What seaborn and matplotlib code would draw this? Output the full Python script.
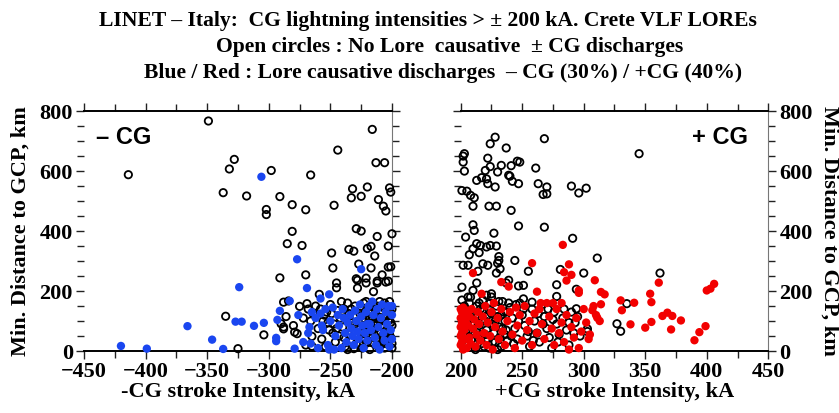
import seaborn as sns
import matplotlib.pyplot as plt
import pandas as pd
from matplotlib.ticker import MultipleLocator

# -CG strokes (kA, km): no LORE causative (open) / LORE causative (blue)
neg_open = [
    (-414, 588), (-349, 767), (-332, 607), (-328, 639), (-337, 528), (-318, 517),
    (-298, 602), (-302, 472), (-302, 455), (-291, 515), (-281, 488), (-270, 471),
    (-266, 587), (-281, 399), (-285, 358), (-273, 352), (-244, 670), (-247, 486),
    (-291, 244), (-270, 254), (-335, 116), (-325, 8), (-249, 327), (-248, 277),
    (-245, 227), (-245, 211), (-216, 739), (-213, 628), (-206, 628), (-232, 541),
    (-233, 511), (-225, 516), (-220, 547), (-202, 544), (-201, 530), (-211, 505),
    (-207, 483), (-205, 467), (-229, 408), (-225, 400), (-212, 382), (-200, 391),
    (-235, 339), (-231, 333), (-217, 349), (-220, 342), (-214, 317), (-203, 350),
    (-227, 290), (-217, 277), (-203, 280), (-201, 281), (-229, 241), (-228, 236),
    (-221, 243), (-221, 227), (-212, 233), (-212, 227), (-205, 230), (-203, 233),
    (-228, 210), (-208, 254), (-215, 198), (-259, 189), (-288, 163), (-284, 167),
    (-275, 149), (-269, 158), (-290, 91), (-288, 74), (-279, 63), (-277, 58),
    (-265, 49), (-265, 16), (-304, 54),
    (-262, 150), (-258, 140), (-255, 120), (-252, 95), (-250, 155), (-248, 60),
    (-246, 30), (-244, 135), (-242, 110), (-240, 80), (-239, 45), (-238, 15),
    (-236, 160), (-235, 125), (-234, 95), (-233, 65), (-232, 35), (-231, 8),
    (-230, 150), (-229, 115), (-228, 75), (-227, 50), (-226, 20), (-225, 140),
    (-224, 105), (-223, 160), (-222, 85), (-221, 55), (-220, 30), (-219, 130),
    (-218, 5), (-217, 100), (-216, 70), (-215, 150), (-214, 120), (-213, 40),
    (-212, 90), (-211, 15), (-210, 165), (-209, 60), (-208, 135), (-207, 110),
    (-206, 80), (-205, 25), (-204, 150), (-203, 100), (-202, 55), (-201, 125),
    (-200, 10), (-200, 85), (-268, 140), (-266, 100), (-272, 110), (-260, 75),
    (-257, 40), (-254, 15), (-249, 125), (-247, 90), (-243, 50), (-241, 165),
    (-237, 105), (-233, 140), (-229, 25), (-226, 125), (-223, 45), (-221, 165),
    (-218, 110), (-217, 30), (-214, 75), (-212, 150), (-211, 105), (-209, 20),
    (-208, 50), (-206, 160), (-205, 115), (-204, 70), (-203, 35), (-202, 140),
    (-201, 95), (-210, 130), (-215, 95), (-220, 90), (-225, 60), (-230, 90),
    (-235, 55), (-245, 75), (-253, 130), (-264, 125), (-270, 20), (-286, 115),
    (-280, 85), (-288, 80), (-256, 100), (-251, 70), (-239, 140), (-219, 75),
    (-207, 40), (-202, 165), (-224, 10), (-236, 5),
    (-222, 130), (-218, 150), (-216, 115), (-213, 95), (-211, 60), (-209, 85),
    (-207, 145), (-206, 10), (-204, 120), (-203, 65), (-201, 45), (-200, 140),
    (-200, 25), (-219, 45), (-214, 140), (-210, 100), (-227, 95), (-223, 120),
    (-217, 55), (-212, 20),
]
neg_lore = [
    (-420, 17), (-399, 8), (-366, 83), (-346, 38), (-337, 7), (-324, 213),
    (-327, 98), (-322, 98), (-312, 84), (-304, 94), (-306, 581), (-294, 44),
    (-294, 33), (-293, 104), (-291, 134), (-283, 167), (-277, 306), (-269, 210),
    (-251, 189), (-225, 273), (-279, 8), (-267, 80), (-276, 120), (-258, 175),
    (-262, 110), (-258, 125), (-256, 70), (-254, 140), (-252, 20), (-251, 5),
    (-250, 100), (-248, 145), (-246, 50), (-244, 120), (-243, 85), (-241, 10),
    (-240, 140), (-238, 60), (-237, 30), (-236, 95), (-234, 120), (-233, 75),
    (-232, 50), (-231, 20), (-230, 135), (-229, 100), (-228, 65), (-227, 40),
    (-226, 155), (-225, 115), (-224, 85), (-223, 10), (-222, 60), (-221, 130),
    (-220, 35), (-219, 150), (-218, 90), (-217, 70), (-216, 165), (-215, 120),
    (-214, 45), (-213, 20), (-212, 140), (-211, 80), (-210, 5), (-209, 110),
    (-208, 155), (-207, 60), (-206, 35), (-205, 130), (-204, 90), (-203, 150),
    (-202, 15), (-201, 70), (-200, 120), (-200, 150), (-200, 40), (-265, 130),
    (-268, 60), (-266, 25), (-260, 10), (-257, 85), (-272, 30), (-247, 5),
    (-239, 110), (-220, 90),
]

# +CG strokes (kA, km): no LORE causative (open) / LORE causative (red)
pos_open = [
    (203, 658), (202, 650), (202, 630), (203, 600), (201, 535), (205, 533),
    (208, 519), (211, 511), (210, 483), (210, 421), (211, 402), (204, 380),
    (213, 569), (217, 578), (221, 574), (222, 558), (220, 602), (224, 615),
    (222, 643), (224, 691), (228, 713), (237, 677), (233, 619), (230, 597),
    (228, 547), (223, 483), (229, 483), (241, 618), (239, 586), (240, 583),
    (242, 566), (247, 558), (246, 633), (248, 630), (241, 469), (247, 417),
    (261, 610), (263, 558), (267, 522), (270, 524), (268, 708), (270, 547),
    (268, 413), (290, 550), (296, 527), (302, 543), (345, 658), (291, 376),
    (311, 310), (300, 260), (362, 260), (335, 158), (327, 91), (330, 66),
    (303, 74), (294, 141), (294, 206), (281, 272), (278, 221), (278, 182),
    (255, 266), (244, 302), (231, 315), (231, 302), (230, 293), (232, 274),
    (227, 393), (213, 358), (216, 352), (221, 347), (224, 352), (229, 350),
    (207, 321), (210, 341), (215, 328), (202, 286), (206, 286), (218, 291),
    (222, 286), (214, 266), (229, 260), (239, 236), (237, 227), (247, 217),
    (201, 213), (213, 227), (210, 202), (221, 186), (225, 191), (206, 180),
    (251, 219), (258, 163), (251, 174),
    (201, 170), (202, 140), (203, 110), (204, 80), (205, 50), (206, 20),
    (207, 160), (208, 125), (209, 95), (210, 65), (211, 35), (212, 5),
    (213, 150), (214, 115), (215, 85), (216, 55), (217, 25), (218, 170),
    (219, 135), (220, 100), (221, 70), (222, 40), (223, 10), (224, 160),
    (225, 125), (226, 90), (227, 60), (228, 30), (229, 150), (230, 115),
    (231, 80), (232, 45), (233, 15), (234, 165), (235, 130), (236, 100),
    (237, 70), (238, 35), (240, 145), (242, 110), (244, 75), (246, 40),
    (248, 160), (250, 120), (252, 85), (254, 50), (256, 15), (258, 140),
    (260, 100), (262, 60), (264, 30), (266, 155), (268, 115), (270, 75),
    (272, 45), (274, 10), (276, 130), (278, 90), (280, 55), (283, 110),
    (286, 70), (288, 20), (290, 130), (293, 95), (297, 50), (202, 60),
    (204, 25), (206, 130), (208, 180), (211, 90), (214, 45), (216, 140),
    (219, 15), (222, 120), (225, 180), (227, 85), (230, 5), (233, 120),
    (236, 55), (239, 160), (243, 25), (247, 100), (251, 140), (255, 65),
    (259, 35), (263, 125), (267, 90), (271, 140), (275, 105), (279, 30),
    (284, 140), (288, 95), (292, 60), (295, 115), (303, 65),
    (203, 150), (205, 95), (207, 70), (209, 40), (212, 120), (215, 160),
    (217, 105), (220, 55), (223, 140), (226, 30), (228, 100), (231, 165),
    (234, 75), (237, 130), (241, 50), (245, 155),
]
pos_lore = [
    (210, 260), (217, 191), (233, 230), (239, 215), (258, 293), (262, 198),
    (283, 354), (284, 263), (288, 289), (286, 235), (290, 254), (296, 202),
    (296, 194), (309, 236), (314, 197), (317, 189), (314, 156), (311, 111),
    (307, 136), (330, 169), (331, 136), (341, 161), (338, 89), (350, 78),
    (355, 97), (354, 191), (355, 163), (361, 228), (364, 117), (368, 128),
    (372, 117), (371, 72), (379, 102), (390, 36), (394, 63), (399, 83),
    (400, 202), (403, 208), (406, 224),
    (200, 140), (200, 110), (200, 80), (200, 50), (200, 20), (201, 130),
    (201, 95), (201, 60), (201, 30), (202, 145), (202, 5), (203, 120),
    (203, 70), (204, 100), (204, 40), (205, 135), (205, 10), (206, 85),
    (207, 115), (207, 45), (208, 25), (209, 140), (210, 75), (211, 105),
    (212, 15), (213, 55), (214, 130), (215, 90), (216, 35), (218, 115),
    (219, 60), (220, 150), (221, 20), (222, 95), (224, 50), (225, 130),
    (226, 5), (228, 80), (230, 110), (231, 40), (233, 140), (234, 65),
    (236, 20), (238, 100), (240, 130), (242, 55), (244, 10), (246, 85),
    (248, 120), (250, 35), (252, 150), (254, 70), (256, 100), (258, 20),
    (260, 125), (262, 60), (264, 140), (266, 90), (268, 40), (270, 160),
    (272, 115), (274, 75), (276, 20), (278, 140), (280, 60), (282, 95),
    (284, 30), (286, 120), (288, 5), (290, 80), (292, 45), (294, 110),
    (296, 10), (298, 65), (300, 140), (302, 95), (304, 40), (305, 55),
    (308, 150), (310, 120), (313, 100), (227, 160), (245, 145), (265, 160),
    (275, 160), (282, 160),
]

title_lines = [
    "LINET \u2013 Italy:  CG lightning intensities > \u00b1 200 kA. Crete VLF LOREs",
    "Open circles : No Lore  causative  \u00b1 CG discharges",
    "Blue / Red : Lore causative discharges  \u2013 CG (30%) / +CG (40%)",
]

sns.set_style("ticks")
plt.rcParams['font.family'] = ['Liberation Serif', 'DejaVu Serif']
plt.rcParams['font.weight'] = 'bold'
plt.rcParams['text.color'] = 'black'
plt.rcParams['axes.labelcolor'] = 'black'

fig = plt.figure(figsize=(8.39, 4.13), dpi=100)
ax1 = fig.add_axes([0.1001, 0.150, 0.3671, 0.581])
ax2 = fig.add_axes([0.5491, 0.150, 0.3666, 0.581])


def to_df(pairs):
    return pd.DataFrame(pairs, columns=['ka', 'km'])


for ax, opens, lore, color in [(ax1, neg_open, neg_lore, '#1a46f0'),
                               (ax2, pos_open, pos_lore, '#f20000')]:
    sns.scatterplot(data=to_df(opens), x='ka', y='km', ax=ax, s=28,
                    facecolor='none', edgecolor='black', linewidth=1.3,
                    clip_on=False, zorder=3)
    sns.scatterplot(data=to_df(lore), x='ka', y='km', ax=ax, s=36,
                    color=color, edgecolor='none', clip_on=False, zorder=3)
    ax.set_ylim(0, 800)
    ax.xaxis.set_major_locator(MultipleLocator(50))
    ax.xaxis.set_minor_locator(MultipleLocator(25))
    ax.yaxis.set_major_locator(MultipleLocator(200))
    ax.yaxis.set_minor_locator(MultipleLocator(50))
    ax.tick_params(which='both', direction='out', top=True, right=True,
                   left=True, bottom=True, width=1, colors='#222222',
                   labelcolor='black', labelsize=16)
    ax.tick_params(which='major', length=6, pad=2)
    ax.tick_params(which='minor', length=5)
    ax.spines['left'].set_visible(False)
    ax.spines['right'].set_color('#777777')
    for s in ['top', 'bottom']:
        ax.spines[s].set_linewidth(1.4)
        ax.spines[s].set_color('black')
    ax.set_ylabel('')

ax1.set_xlim(-450, -200)
ax2.set_xlim(200, 450)
ax1.set_xlabel('-CG stroke Intensity, kA', fontsize=16, fontweight='bold',
               labelpad=0)
ax2.set_xlabel('+CG stroke Intensity, kA', fontsize=16, fontweight='bold',
               labelpad=0)
ax2.tick_params(labelleft=False, labelright=True)

ax1.text(0.04, 0.89, '\u2013 CG', transform=ax1.transAxes, fontsize=17,
         fontweight='bold', family='Liberation Sans', va='center', ha='left')
ax2.text(0.935, 0.89, '+ CG', transform=ax2.transAxes, fontsize=17,
         fontweight='bold', family='Liberation Sans', va='center', ha='right')

fig.text(0.025, 0.44, 'Min. Distance to GCP, km', rotation=90, fontsize=16,
         fontweight='bold', ha='center', va='center')
fig.text(0.988, 0.44, 'Min. Distance to GCP, km', rotation=270, fontsize=16,
         fontweight='bold', ha='center', va='center')

for txt, x, y in zip(title_lines, [0.510, 0.536, 0.528], [0.949, 0.886, 0.823]):
    fig.text(x, y, txt, fontsize=15.6, fontweight='bold', ha='center', va='center')

fig.savefig('out.png', dpi=100)
